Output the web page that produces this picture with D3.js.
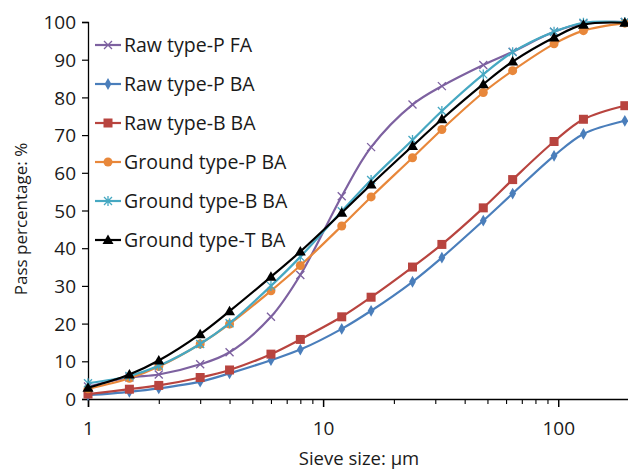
<!DOCTYPE html>
<html><head><meta charset="utf-8">
<script src="https://cdn.jsdelivr.net/npm/d3@7"></script>
<style>body{margin:0;background:#fff;} text{font-family:"Open Sans","DejaVu Sans",sans-serif;fill:#1a1a1a;}</style>
</head><body><svg id="c" width="628" height="469"></svg>
<script>
const sizes = [1, 1.5, 2, 3, 4, 6, 8, 12, 16, 24, 32, 48, 64, 96, 128, 192];
const rawPFA  = [3.3, 5.7, 6.5, 9.2, 12.4, 21.8, 32.9, 53.8, 66.8, 78.1, 83.0, 88.6, 92.1, 97.4, 99.6, 100];
const rawPBA  = [1.0, 1.9, 2.8, 4.6, 6.8, 10.3, 13.1, 18.6, 23.4, 31.1, 37.5, 47.3, 54.5, 64.5, 70.3, 73.8];
const rawBBA  = [1.3, 2.6, 3.6, 5.7, 7.7, 11.9, 15.8, 21.8, 27.0, 35.0, 41.0, 50.7, 58.2, 68.3, 74.2, 77.8];
const grdPBA  = [2.7, 5.5, 8.6, 14.6, 19.9, 28.7, 35.4, 45.9, 53.6, 64.0, 71.5, 81.3, 87.1, 94.2, 97.7, 99.7];
const grdBBA  = [4.2, 6.1, 8.8, 14.6, 20.1, 30.0, 37.7, 49.8, 58.1, 68.7, 76.4, 86.1, 92.0, 97.4, 99.8, 100];
const grdTBA  = [3.0, 6.5, 10.2, 17.2, 23.3, 32.4, 39.1, 49.4, 56.9, 67.1, 74.2, 83.5, 89.5, 95.9, 99.3, 99.8];
const seriesNames = ["Raw type-P FA","Raw type-P BA","Raw type-B BA","Ground type-P BA","Ground type-B BA","Ground type-T BA"];
const yTicks = [0,10,20,30,40,50,60,70,80,90,100];
const xMajor = [1,10,100];
const xMinor = [2,3,4,5,6,7,8,9,20,30,40,50,60,70,80,90];

const series = [
  {name: seriesNames[0], values: rawPFA, color: "#7d61a0", marker: "x"},
  {name: seriesNames[1], values: rawPBA, color: "#4a7ebb", marker: "diamond"},
  {name: seriesNames[2], values: rawBBA, color: "#b8443f", marker: "square"},
  {name: seriesNames[3], values: grdPBA, color: "#e8873a", marker: "circle"},
  {name: seriesNames[4], values: grdBBA, color: "#46a8c2", marker: "asterisk"},
  {name: seriesNames[5], values: grdTBA, color: "#000000", marker: "triangle"}
];

const svg = d3.select("#c");
const x = d3.scaleLog().domain([1, 200]).range([88, 629]);
const y = d3.scaleLinear().domain([0, 100]).range([399, 22]);

// axes
const gy = svg.append("g").attr("transform","translate(88,0)")
  .call(d3.axisLeft(y).tickValues(yTicks).tickSize(6).tickPadding(6).tickFormat(d3.format("d")));
gy.select(".domain").attr("stroke","#000").attr("stroke-width",1.3);
gy.selectAll(".tick line").attr("stroke","#000").attr("stroke-width",1.2);
gy.selectAll("text").style("font-size","19px").attr("dy","0.35em");

const gx = svg.append("g").attr("transform","translate(0,399)")
  .call(d3.axisBottom(x).tickValues(xMajor).tickSize(8).tickPadding(15).tickFormat(d3.format("d")));
gx.select(".domain").attr("stroke","#000").attr("stroke-width",1.3);
gx.selectAll(".tick line").attr("stroke","#000").attr("stroke-width",1.5);
gx.selectAll("text").style("font-size","19px");
const gxm = svg.append("g").attr("transform","translate(0,399)")
  .call(d3.axisBottom(x).tickValues(xMinor).tickSize(5).tickFormat(""));
gxm.select(".domain").remove();
gxm.selectAll(".tick line").attr("stroke","#000").attr("stroke-width",1.1);

svg.append("text").attr("x",359).attr("y",465).attr("text-anchor","middle")
  .style("font-size","18.5px").text("Sieve size: µm");
svg.append("text").attr("transform","translate(27,219) rotate(-90)").attr("text-anchor","middle")
  .style("font-size","17px").text("Pass percentage: %");

const line = d3.line().x(d=>x(d[0])).y(d=>y(d[1])).curve(d3.curveCatmullRom.alpha(0.5));

function drawMarker(g, type, cx, cy, color) {
  if (type === "x") {
    const s = 4;
    g.append("path").attr("d",`M${cx-s},${cy-s}L${cx+s},${cy+s}M${cx-s},${cy+s}L${cx+s},${cy-s}`)
      .attr("stroke",color).attr("stroke-width",1.3).attr("fill","none");
  } else if (type === "asterisk") {
    const s = 4;
    g.append("path").attr("d",`M${cx-s},${cy-s}L${cx+s},${cy+s}M${cx-s},${cy+s}L${cx+s},${cy-s}M${cx},${cy-s-1}L${cx},${cy+s+1}`)
      .attr("stroke",color).attr("stroke-width",1.3).attr("fill","none");
  } else if (type === "diamond") {
    g.append("path").attr("d",d3.symbol(d3.symbolDiamond, 40)()).attr("transform",`translate(${cx},${cy})`)
      .attr("fill",color);
  } else if (type === "square") {
    g.append("rect").attr("x",cx-4.5).attr("y",cy-4.5).attr("width",9).attr("height",9).attr("fill",color);
  } else if (type === "circle") {
    g.append("circle").attr("cx",cx).attr("cy",cy).attr("r",4.5).attr("fill",color);
  } else if (type === "triangle") {
    g.append("path").attr("d",`M${cx},${cy-5.5}L${cx+5.5},${cy+4}L${cx-5.5},${cy+4}Z`).attr("fill",color);
  }
}

series.forEach(s => {
  const pts = sizes.map((v,i)=>[v, s.values[i]]);
  const g = svg.append("g");
  g.append("path").attr("d", line(pts)).attr("fill","none").attr("stroke", s.color).attr("stroke-width", 2.2);
  pts.forEach(p => drawMarker(g, s.marker, x(p[0]), y(p[1]), s.color));
});

// legend
const leg = svg.append("g");
series.forEach((s,i) => {
  const ly = 45 + i*39;
  leg.append("line").attr("x1",95).attr("x2",121).attr("y1",ly).attr("y2",ly).attr("stroke",s.color).attr("stroke-width",2.2);
  drawMarker(leg, s.marker, 108, ly, s.color);
  leg.append("text").attr("x",124).attr("y",ly).attr("dy","0.35em").style("font-size","19.5px").text(s.name);
});
</script></body></html>
